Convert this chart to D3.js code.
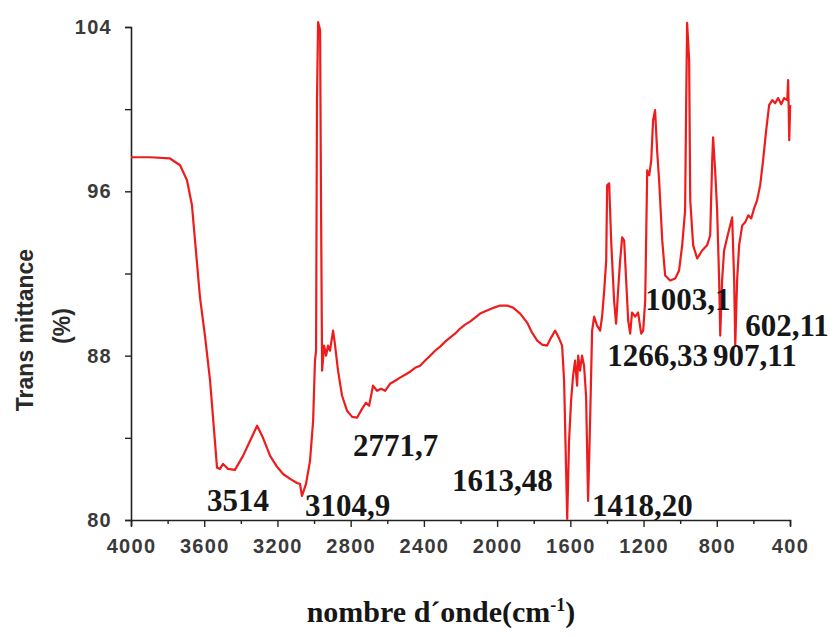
<!DOCTYPE html>
<html>
<head>
<meta charset="utf-8">
<script src="https://cdn.jsdelivr.net/npm/d3@7"></script>
<style>
  html, body { margin: 0; padding: 0; background: #fff; }
  svg { display: block; }
</style>
</head>
<body>
<svg id="chart" width="835" height="637"></svg>
<script>
// ---- data ----
const wavenumber = [4000,3896,3787,3732,3694,3667,3623,3596,3568,3546,3530,3514,3497,3470,3432,3388,3350,3311,3279,3240,3202,3169,3131,3093,3077,3066,3044,3022,3005,2995,2989,2984,2978,2967,2962,2956,2945,2934,2924,2913,2896,2885,2869,2847,2820,2792,2765,2738,2716,2699,2678,2656,2634,2612,2585,2557,2530,2503,2475,2448,2421,2393,2366,2339,2311,2284,2257,2230,2202,2175,2148,2120,2093,2055,2016,1984,1945,1913,1874,1836,1809,1781,1754,1727,1705,1683,1661,1645,1634,1623,1617,1607,1596,1585,1574,1563,1557,1547,1536,1525,1514,1503,1492,1481,1470,1454,1437,1426,1415,1404,1399,1388,1377,1361,1350,1339,1328,1317,1306,1295,1284,1273,1263,1246,1230,1213,1202,1191,1180,1169,1158,1148,1137,1126,1115,1098,1082,1055,1027,1006,989,973,967,962,951,945,929,907,880,853,836,825,820,809,798,787,781,771,760,743,727,716,705,699,689,678,661,645,628,612,596,580,563,547,530,514,497,481,465,448,432,415,410,404,399];
const transmittance = [97.66,97.66,97.6,97.27,96.54,95.32,90.83,88.98,86.78,84.34,82.54,82.49,82.73,82.49,82.44,83.12,83.85,84.59,84.0,83.12,82.59,82.24,82.0,81.8,81.76,81.17,81.76,82.88,84.83,87.76,88.24,100.44,104.24,103.85,95.56,87.27,88.49,88.0,88.49,88.24,89.22,88.49,87.27,86.05,85.32,85.02,84.98,85.41,85.71,85.56,86.54,86.29,86.39,86.29,86.63,86.78,86.93,87.07,87.22,87.41,87.51,87.76,88.0,88.24,88.44,88.68,88.88,89.07,89.32,89.51,89.66,89.85,90.05,90.2,90.34,90.44,90.44,90.34,90.05,89.61,89.12,88.73,88.54,88.49,88.88,89.22,88.83,88.49,86.78,82.39,80.05,83.85,85.8,87.02,87.76,86.54,88.0,87.27,88.0,87.51,86.05,80.93,84.83,89.22,89.9,89.46,89.22,89.95,91.17,92.63,96.29,96.39,93.61,90.68,89.56,91.17,92.63,93.76,93.61,91.66,89.71,89.07,90.1,89.9,90.1,89.07,89.22,90.68,97.02,96.78,97.51,99.46,99.95,98.0,96.54,93.61,91.9,91.66,91.76,92.15,93.37,95.07,100.44,104.2,102.39,95.56,93.37,92.73,93.12,93.37,93.85,97.51,98.63,97.02,95.07,91.66,88.98,91.66,93.12,93.76,94.34,94.73,91.66,88.49,91.66,93.37,94.34,94.49,94.83,94.68,95.17,95.56,96.29,97.51,98.98,100.2,100.44,100.29,100.54,100.24,100.54,100.44,101.41,98.49,100.2];

const xTicks = [4000,3600,3200,2800,2400,2000,1600,1200,800,400];
const yTicks = [80,88,96,104];

const annotationText = ["3514","3104,9","2771,7","1613,48","1418,20","1266,33","907,11","1003,1","602,11"];
// anchor of each label (left edge, baseline) in data units
const annotationWn = [3585,3049,2787,2246,1481,1399,820,1191,645];
const annotationT  = [80.44,80.2,83.12,81.41,80.2,87.51,87.51,90.2,88.98];

// ---- layout ----
const svg = d3.select("#chart");
const x = d3.scaleLinear().domain([4000, 400]).range([131, 790]);
const y = d3.scaleLinear().domain([80, 104]).range([520, 27]);

const axisColor = "#222";
const tickFont = "Arial, 'Liberation Sans', sans-serif";

// x axis
const xAxis = d3.axisBottom(x)
  .tickValues(d3.range(4000, 399, -200))
  .tickSize(6)
  .tickFormat(d => xTicks.includes(d) ? d : "");
const gx = svg.append("g").attr("transform", "translate(0,520)").call(xAxis);
gx.selectAll(".tick line")
  .attr("y2", d => xTicks.includes(d) ? 7 : 4);
gx.selectAll("text")
  .attr("y", 33)
  .attr("dy", 0)
  .style("font-family", tickFont)
  .style("font-weight", "bold")
  .style("font-size", "20px")
  .style("letter-spacing", "1.3px")
  .style("fill", "#3a3a3a");

// y axis
const yAxis = d3.axisLeft(y)
  .tickValues(d3.range(80, 104.1, 4))
  .tickSize(6)
  .tickFormat(d => yTicks.includes(d) ? d : "");
const gy = svg.append("g").attr("transform", "translate(131,0)").call(yAxis);
gy.selectAll("text")
  .attr("x", -19)
  .style("font-family", tickFont)
  .style("font-weight", "bold")
  .style("font-size", "20px")
  .style("letter-spacing", "1.3px")
  .style("fill", "#3a3a3a");

[gx, gy].forEach(g => {
  g.select(".domain").attr("stroke", axisColor).attr("stroke-width", 1.6);
  g.selectAll(".tick line").attr("stroke", axisColor).attr("stroke-width", 1.4);
});

// spectrum line
const pts = wavenumber.map((w, i) => [w, transmittance[i]]);
const line = d3.line().x(d => x(d[0])).y(d => y(d[1]));
svg.append("path")
  .datum(pts)
  .attr("fill", "none")
  .attr("stroke", "#ee1c1c")
  .attr("stroke-width", 2.2)
  .attr("stroke-linejoin", "round")
  .attr("d", line);

// annotations
svg.append("g").selectAll("text")
  .data(annotationText)
  .join("text")
  .attr("x", (d, i) => x(annotationWn[i]))
  .attr("y", (d, i) => y(annotationT[i]))
  .text(d => d)
  .style("font-family", "'Liberation Serif', 'Times New Roman', serif")
  .style("font-weight", "bold")
  .style("font-size", "31px")
  .style("fill", "#161616");

// axis titles
svg.append("text")
  .attr("transform", "translate(33,330) rotate(-90)")
  .attr("text-anchor", "middle")
  .style("font-family", tickFont)
  .style("font-weight", "bold")
  .style("font-size", "23px")
  .style("fill", "#2a2a2a")
  .text("Trans mittance");
svg.append("text")
  .attr("transform", "translate(70,326) rotate(-90)")
  .attr("text-anchor", "middle")
  .style("font-family", tickFont)
  .style("font-weight", "bold")
  .style("font-size", "23px")
  .style("fill", "#2a2a2a")
  .text("(%)");

const xt = svg.append("text")
  .attr("x", 441)
  .attr("y", 622)
  .attr("text-anchor", "middle")
  .style("font-family", "'Liberation Serif', 'Times New Roman', serif")
  .style("font-weight", "bold")
  .style("font-size", "30px")
  .style("fill", "#161616");
xt.append("tspan").text("nombre d\u00B4onde(cm");
xt.append("tspan").attr("dy", -11).style("font-size", "18px").text("-1");
xt.append("tspan").attr("dy", 11).text(")");
</script>
</body>
</html>
